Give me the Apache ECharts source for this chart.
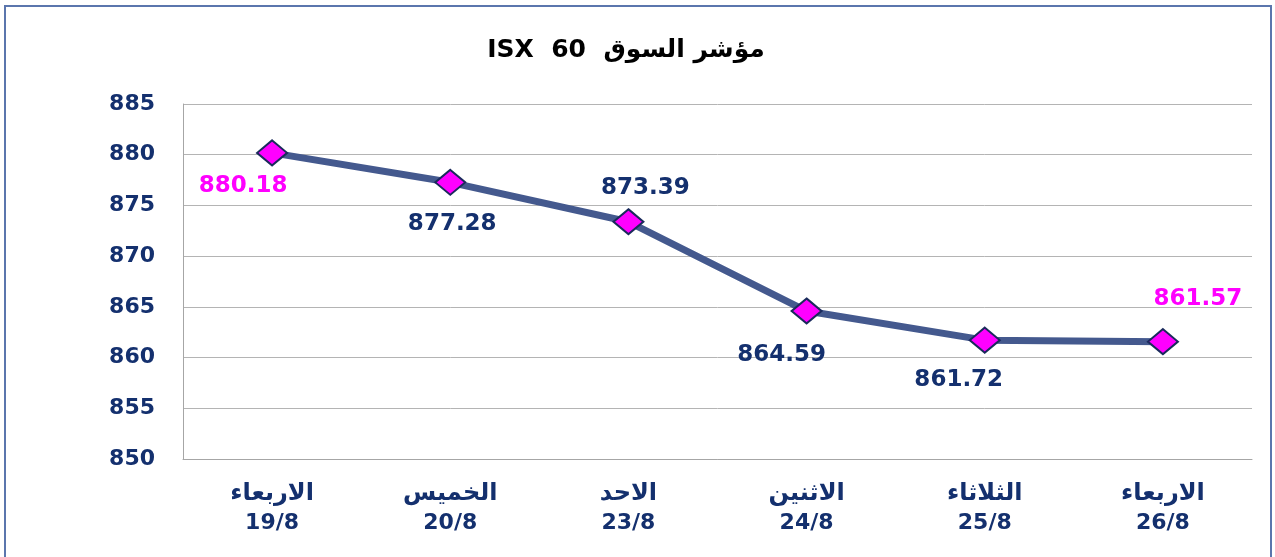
<!DOCTYPE html>
<html>
<head>
<meta charset="utf-8">
<script src="https://cdn.jsdelivr.net/npm/echarts@6/dist/echarts.min.js"></script>
<style>
  html, body { margin: 0; padding: 0; background: #fff; }
  #chart { width: 1275px; height: 557px; }
</style>
</head>
<body>
<div id="chart"></div>
<script>
    // market index, weekly closes
    var days = ['الاربعاء', 'الخميس', 'الاحد', 'الاثنين', 'الثلاثاء', 'الاربعاء'];
    var dates = ['19/8', '20/8', '23/8', '24/8', '25/8', '26/8'];
    var values = [880.18, 877.28, 873.39, 864.59, 861.72, 861.57];
    var yTicks = [850, 855, 860, 865, 870, 875, 880, 885];

    var navy = '#14306e';
    var magenta = '#ff00ff';
    // where each value label sits relative to its marker
    var labelOffsets = [[-29, 33], [2, 42], [17, -34], [-25, 44], [-26, 40], [35, -43]];

    var categories = [];
    for (var i = 0; i < days.length; i++) {
        categories.push('{d|' + days[i] + '}\n{n|' + dates[i] + '}');
    }

    var points = [];
    for (var j = 0; j < values.length; j++) {
        var first = j === 0, last = j === values.length - 1;
        points.push({
            value: values[j],
            label: {
                offset: labelOffsets[j],
                color: (first || last) ? magenta : navy
            }
        });
    }

    var chart = echarts.init(document.getElementById('chart'));

    var option = {
        backgroundColor: '#fff',
        animation: false,
        title: {
            text: 'ISX  60  مؤشر السوق',
            left: 621,
            top: 33,
            textAlign: 'center',
            textStyle: {
                fontFamily: 'DejaVu Sans',
                fontWeight: 'bold',
                fontSize: 25,
                color: '#000'
            }
        },
        graphic: [{
            type: 'rect',
            shape: { x: 5, y: 6, width: 1266, height: 570 },
            style: { fill: 'none', stroke: '#5b76ad', lineWidth: 2 },
            silent: true
        }],
        grid: {
            left: 183,
            right: 23,
            top: 104,
            bottom: 98,
            show: false
        },
        xAxis: {
            type: 'category',
            boundaryGap: true,
            data: categories,
            axisLine: { show: true, lineStyle: { color: '#a6a6a6', width: 1 } },
            axisTick: { show: false },
            axisLabel: {
                interval: 0,
                margin: 20,
                color: navy,
                rich: {
                    d: {
                        color: navy,
                        fontFamily: 'DejaVu Sans',
                        fontWeight: 'bold',
                        fontSize: 24,
                        lineHeight: 30
                    },
                    n: {
                        color: navy,
                        fontFamily: 'DejaVu Sans',
                        fontWeight: 'bold',
                        fontSize: 22,
                        lineHeight: 28
                    }
                }
            }
        },
        yAxis: {
            type: 'value',
            min: yTicks[0],
            max: yTicks[yTicks.length - 1],
            interval: 5,
            axisLine: { show: true, lineStyle: { color: '#a6a6a6', width: 1 } },
            axisTick: { show: false },
            splitLine: { show: true, lineStyle: { color: '#b4b4b4', width: 1 } },
            axisLabel: {
                margin: 28,
                color: navy,
                fontFamily: 'DejaVu Sans',
                fontWeight: 'bold',
                fontSize: 22
            }
        },
        series: [{
            type: 'line',
            data: points,
            symbol: 'diamond',
            symbolSize: [30, 25],
            lineStyle: { color: '#44598e', width: 7 },
            itemStyle: { color: magenta, borderColor: '#1a2a5c', borderWidth: 2 },
            label: {
                show: true,
                position: 'inside',
                align: 'center',
                verticalAlign: 'middle',
                fontFamily: 'DejaVu Sans',
                fontWeight: 'bold',
                fontSize: 23
            },
            z: 3
        }]
    };

    chart.setOption(option);
</script>
</body>
</html>
